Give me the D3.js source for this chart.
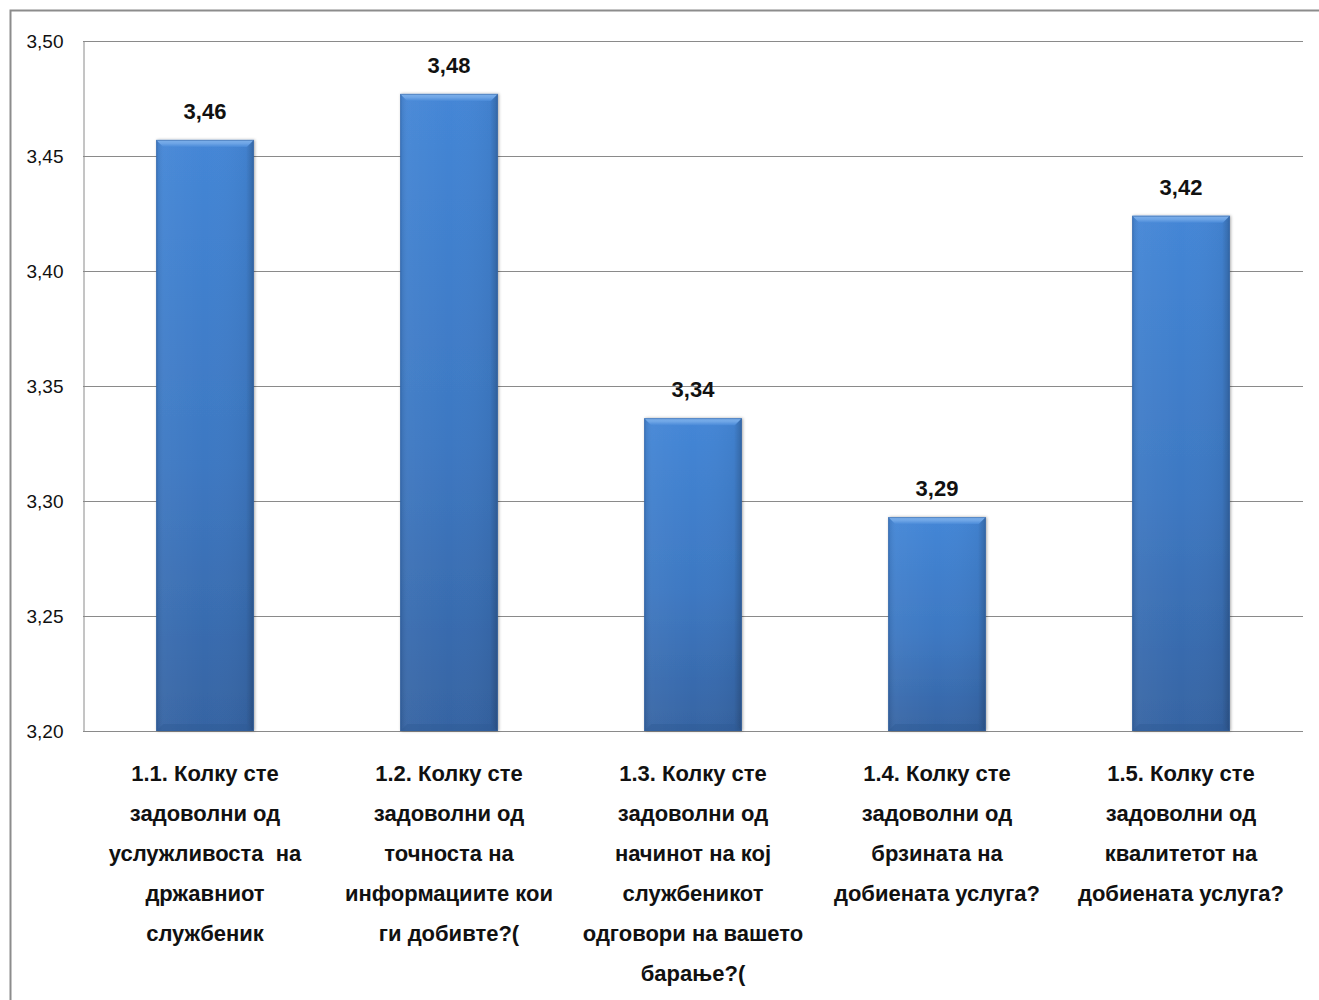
<!DOCTYPE html>
<html>
<head>
<meta charset="utf-8">
<script src="https://cdn.jsdelivr.net/npm/d3@7"></script>
<style>
  html, body { margin: 0; padding: 0; background: #fff; }
  svg { display: block; }
</style>
</head>
<body>
<svg id="chart" width="1319" height="1000"></svg>
<script>
// Average satisfaction scores per survey question
const categories = [
  ["1.1. Колку сте", "задоволни од", "услужливоста  на", "државниот", "службеник"],
  ["1.2. Колку сте", "задоволни од", "точноста на", "информациите кои", "ги добивте?("],
  ["1.3. Колку сте", "задоволни од", "начинот на кој", "службеникот", "одговори на вашето", "барање?("],
  ["1.4. Колку сте", "задоволни од", "брзината на", "добиената услуга?"],
  ["1.5. Колку сте", "задоволни од", "квалитетот на", "добиената услуга?"]
];
const values = [3.457, 3.477, 3.336, 3.293, 3.424];
const yTicks = [3.20, 3.25, 3.30, 3.35, 3.40, 3.45, 3.50];

const svg = d3.select("#chart");
const W = 1319, H = 1000;
const plot = { left: 83, top: 41, right: 1303, bottom: 731 };

const fmt = v => d3.format(".2f")(v).replace(".", ",");
const narrow = "'Liberation Sans Narrow', 'Arial Narrow', 'Liberation Sans', sans-serif";

// Outer chart frame (only top and left edges fall inside the page)
svg.append("rect")
  .attr("x", 10.5).attr("y", 10.5)
  .attr("width", W + 20).attr("height", H + 20)
  .attr("fill", "none").attr("stroke", "#8c8c8c").attr("stroke-width", 2);

const x = d3.scaleBand()
  .domain(d3.range(categories.length))
  .range([plot.left, plot.right])
  .paddingInner(0.6).paddingOuter(0.3);

const y = d3.scaleLinear()
  .domain([3.20, 3.50])
  .range([plot.bottom, plot.top]);

// Gradients for the bevelled bars
const defs = svg.append("defs");
const body = defs.append("linearGradient").attr("id", "barBody")
  .attr("x1", 0).attr("y1", 0).attr("x2", 0).attr("y2", 1);
body.append("stop").attr("offset", "0%").attr("stop-color", "#4486d6");
body.append("stop").attr("offset", "55%").attr("stop-color", "#3d78c2");
body.append("stop").attr("offset", "100%").attr("stop-color", "#3664a3");

const side = defs.append("linearGradient").attr("id", "barSide")
  .attr("x1", 0).attr("y1", 0).attr("x2", 1).attr("y2", 0);
side.append("stop").attr("offset", "0%").attr("stop-color", "#000").attr("stop-opacity", 0.10);
side.append("stop").attr("offset", "8%").attr("stop-color", "#fff").attr("stop-opacity", 0.04);
side.append("stop").attr("offset", "50%").attr("stop-color", "#fff").attr("stop-opacity", 0.0);
side.append("stop").attr("offset", "92%").attr("stop-color", "#000").attr("stop-opacity", 0.04);
side.append("stop").attr("offset", "100%").attr("stop-color", "#000").attr("stop-opacity", 0.22);

const topBevel = defs.append("linearGradient").attr("id", "barTop")
  .attr("x1", 0).attr("y1", 0).attr("x2", 0).attr("y2", 1);
topBevel.append("stop").attr("offset", "0%").attr("stop-color", "#7fb1ea");
topBevel.append("stop").attr("offset", "50%").attr("stop-color", "#6ea5e6");
topBevel.append("stop").attr("offset", "100%").attr("stop-color", "#4a8ad8");

const shadow = defs.append("filter").attr("id", "shadow")
  .attr("x", "-10%").attr("y", "-5%").attr("width", "120%").attr("height", "110%");
shadow.append("feDropShadow").attr("dx", 1).attr("dy", 0).attr("stdDeviation", 1.6)
  .attr("flood-color", "#000").attr("flood-opacity", 0.35);

// Horizontal gridlines
svg.append("g").selectAll("line").data(yTicks).join("line")
  .attr("x1", plot.left).attr("x2", plot.right)
  .attr("y1", d => Math.round(y(d)) + 0.5).attr("y2", d => Math.round(y(d)) + 0.5)
  .attr("stroke", "#8a8a8a").attr("stroke-width", 1);

// Y axis
const yAxis = d3.axisLeft(y).tickValues(yTicks).tickFormat(fmt).tickSize(0).tickPadding(20);
const ga = svg.append("g").attr("transform", `translate(${plot.left + 0.5},0)`).call(yAxis);
ga.select(".domain").attr("stroke", "#8a8a8a");
ga.selectAll("text")
  .attr("font-family", narrow).attr("font-size", 19).attr("fill", "#111");

// Bars
const bars = svg.append("g").selectAll("g").data(values).join("g")
  .attr("transform", (d, i) => `translate(${x(i)},0)`);
const bw = x.bandwidth();
const bev = 7;

bars.append("rect")
  .attr("x", 0).attr("y", d => y(d))
  .attr("width", bw).attr("height", d => y(3.20) - y(d))
  .attr("fill", "url(#barBody)").attr("filter", "url(#shadow)");
bars.append("rect")
  .attr("x", 0).attr("y", d => y(d))
  .attr("width", bw).attr("height", d => y(3.20) - y(d))
  .attr("fill", "url(#barSide)");
// top bevel
bars.append("path")
  .attr("d", d => `M0,${y(d)} L${bw},${y(d)} L${bw - bev},${y(d) + bev} L${bev},${y(d) + bev} Z`)
  .attr("fill", "url(#barTop)");
// bottom bevel
bars.append("path")
  .attr("d", () => { const b = y(3.20); return `M0,${b} L${bw},${b} L${bw - bev},${b - bev} L${bev},${b - bev} Z`; })
  .attr("fill", "#2f5a94").attr("opacity", 0.45);
// outline
bars.append("rect")
  .attr("x", 0.5).attr("y", d => y(d) + 0.5)
  .attr("width", bw - 1).attr("height", d => y(3.20) - y(d) - 1)
  .attr("fill", "none").attr("stroke", "#2f5f9f").attr("stroke-opacity", 0.5);

// Value labels
bars.append("text")
  .attr("x", bw / 2).attr("y", d => y(d) - 21)
  .attr("text-anchor", "middle")
  .attr("font-family", narrow).attr("font-weight", "bold").attr("font-size", 22)
  .attr("fill", "#111")
  .text(fmt);

// Category labels
const cat = svg.append("g").selectAll("text").data(categories).join("text")
  .attr("x", (d, i) => x(i) + bw / 2)
  .attr("y", 781)
  .attr("text-anchor", "middle")
  .attr("font-family", narrow).attr("font-weight", "bold").attr("font-size", 22)
  .attr("fill", "#111");
cat.selectAll("tspan").data(d => d).join("tspan")
  .attr("x", function () { return this.parentNode.getAttribute("x"); })
  .attr("dy", (d, j) => j === 0 ? 0 : 40)
  .style("white-space", "pre")
  .text(d => d);
</script>
</body>
</html>
